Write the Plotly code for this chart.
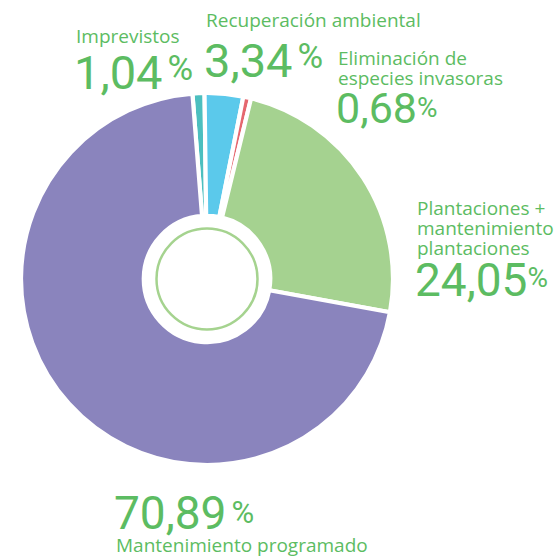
import plotly.graph_objects as go

# ---- data ----
labels = ["Imprevistos", "Recuperación ambiental", "Eliminación de\nespecies invasoras",
          "Plantaciones +\nmantenimiento\nplantaciones", "Mantenimiento programado"]
values = [1.04, 3.34, 0.68, 24.05, 70.89]
colors = ["#4cbfbf", "#5bc9eb", "#e5676f", "#a5d290", "#8a84bd"]
pct_space = [True, True, False, False, True]

W = H = 560
TXT = "#5cbc62"
FONT = "Open Sans"
NUMFONT = "Roboto"

fig = go.Figure(go.Pie(
    labels=[l.replace("\n", " ") for l in labels], values=values, sort=False,
    direction="clockwise", rotation=-4.5, hole=0.34,
    marker=dict(colors=colors, line=dict(color="white", width=4.2)),
    textinfo="none", hoverinfo="label+percent",
    domain=dict(x=[21 / W, 393 / W], y=[(H - 465) / H, (H - 93) / H]),
    showlegend=False,
))

# inner decorative ring
cx, cy, rr = 207, 279, 50.5
fig.add_shape(type="circle", xref="paper", yref="paper",
              x0=(cx - rr) / W, x1=(cx + rr) / W, y0=(H - cy - rr) / H, y1=(H - cy + rr) / H,
              line=dict(color="#a5d38f", width=2.5), fillcolor="rgba(0,0,0,0)")

# text layout per item: left x, first label line center y, number center y,
# number size, percent size, percent raise
layout_txt = [
    dict(x=77, ly=37, ny=72.5, ns=47, ps=35, pr=9),
    dict(x=207, ly=21, ny=60.5, ns=47, ps=35, pr=9),
    dict(x=339, ly=59, ny=108.5, ns=43, ps=28, pr=6),
    dict(x=418, ly=209, ny=279.5, ns=46, ps=28, pr=9),
    dict(x=117, ly=546, ny=512.5, ns=46, ps=31, pr=6),
]
LINE = 20

def fmt(v, space, t):
    s = f"{v:.2f}".replace(".", ",")
    sp = "<span style='font-size:20px'> </span>" if space else ""
    return (f"<span style='font-size:{t['ns']}px'>{s}</span>{sp}"
            f"<span style='font-size:{t['ps']}px;baseline-shift:{t['pr']}px'>%</span>")

for lab, v, sp, t in zip(labels, values, pct_space, layout_txt):
    for i, line in enumerate(lab.split("\n")):
        fig.add_annotation(x=(t['x'] - 3) / W, y=1 - (t['ly'] + i * LINE - 1) / H,
                           xref="paper", yref="paper",
                           xanchor="left", yanchor="middle", showarrow=False, text=line,
                           font=dict(family=FONT, size=19, color=TXT))
    fig.add_annotation(x=(t['x'] - 5) / W, y=1 - t['ny'] / H, xref="paper", yref="paper",
                       xanchor="left", yanchor="middle", showarrow=False, text=fmt(v, sp, t),
                       font=dict(family=NUMFONT, size=t['ns'], color=TXT))

fig.update_layout(width=W, height=H, margin=dict(l=0, r=0, t=0, b=0),
                  paper_bgcolor="white", plot_bgcolor="white")
fig.write_html("out.html", config={"displayModeBar": False},
               post_script="document.body.style.margin='0';document.body.style.padding='0';")
